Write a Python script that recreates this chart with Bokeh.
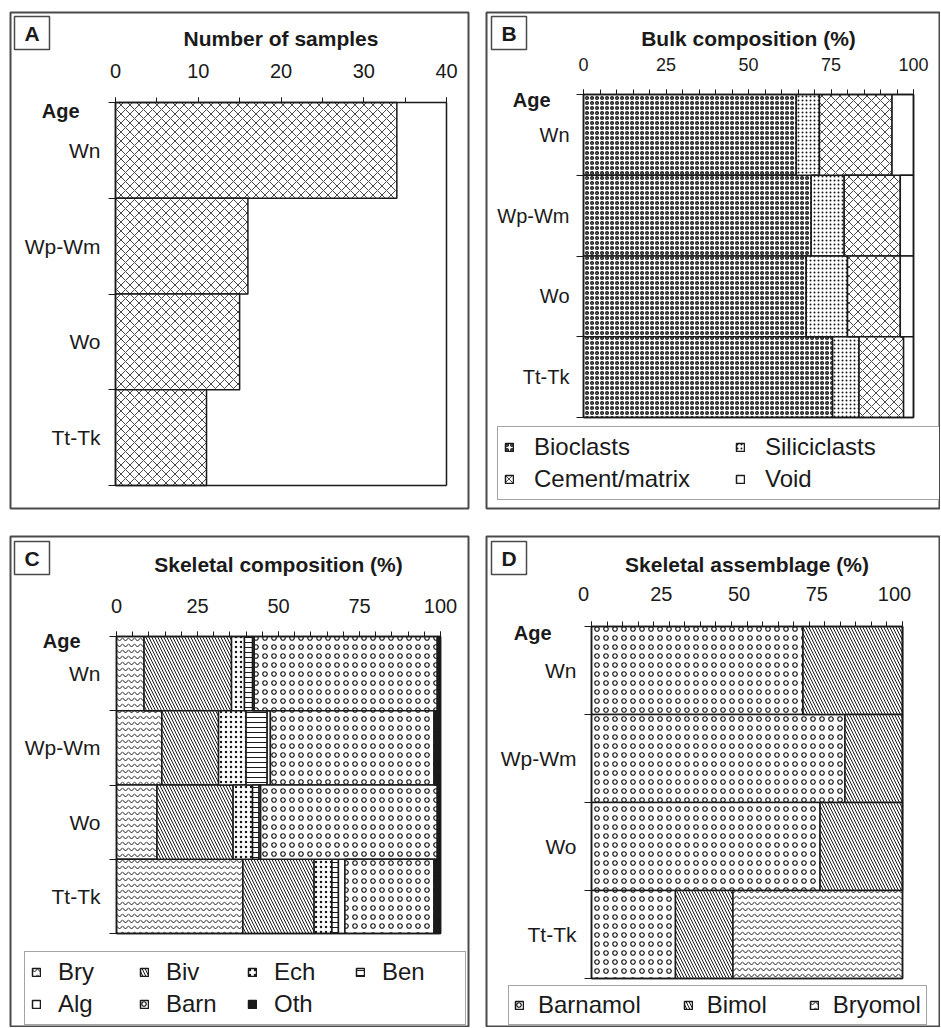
from bokeh.plotting import figure
from bokeh.models import (Range1d, LinearAxis, FixedTicker, Label, Legend, LegendItem,
                          ColumnDataSource, Spacer)
from bokeh.layouts import row, column
from bokeh.embed import file_html
from bokeh.resources import INLINE

# ---------------- data ----------------
ages = ["Wn", "Wp-Wm", "Wo", "Tt-Tk"]

n_samples = [34, 16, 15, 11]
count_ticks = [0, 10, 20, 30, 40]

bulk_names = ["Bioclasts", "Siliciclasts", "Cement/matrix", "Void"]
bioclasts = [64.5, 69, 67.5, 75.5]
siliciclasts = [7, 10, 12.5, 8]
cement = [22, 17, 16, 13.5]
void = [6.5, 4, 4, 3]

skel_names = ["Bry", "Biv", "Ech", "Ben", "Alg", "Barn", "Oth"]
bry = [8.5, 14, 12.5, 39]
biv = [27, 17.5, 23.5, 22]
ech = [4, 8.5, 6, 5.5]
ben = [2.5, 6.5, 2, 2]
alg = [0.5, 1, 0.5, 2]
barn = [56.5, 50.5, 54.5, 27.5]
oth = [1, 2, 1, 2]

assem_names = ["Barnamol", "Bimol", "Bryomol"]
barnamol = [68, 81.5, 73.5, 27]
bimol = [32, 18.5, 26.5, 18.5]
bryomol = [0, 0, 0, 54.5]

pct_ticks = [0, 25, 50, 75, 100]

# ---------------- style ----------------
FONT = "Liberation Sans"
INK = "#1a1a1a"
BOX = "#4a4a4a"

N = len(ages)
centers = [N - i - 0.5 for i in range(N)]
bounds = list(range(N + 1))


class Panel:
    """A figure whose frame fills the canvas; the bar area is placed by the ranges."""

    def __init__(self, ox, oy, W, H, L, R, T, B, xmax, mbr=2, mbb=2):
        self.fl = ox + 2                 # frame left (page px)
        self.fb = oy + H - mbb           # frame bottom (page px)
        FW, FH = W - 2 - mbr, H - 2 - mbb
        Lf, Rf, Tf, Bf = L - 2, R - 2, T - 2, B - 2
        self.ux = xmax / (Rf - Lf)       # data units per pixel along x
        self.xlo = -Lf * self.ux
        self.uy = N / (Bf - Tf)
        yhi = N + Tf * self.uy
        self.ylo = yhi - FH * self.uy
        self.p = figure(width=W, height=H,
                        x_range=Range1d(self.xlo, self.xlo + FW * self.ux),
                        y_range=Range1d(self.ylo, yhi),
                        x_axis_location=None, y_axis_location=None,
                        toolbar_location=None, output_backend="svg",
                        min_border_left=2, min_border_top=2,
                        min_border_right=mbr, min_border_bottom=mbb,
                        outline_line_color=BOX, outline_line_width=2,
                        background_fill_color="white", border_fill_color="white")
        self.p.grid.visible = False
        self.xmax = xmax

    # page pixel -> frame screen units
    def sx(self, px):
        return px - self.fl

    def sy(self, py):
        return self.fb - py

    # page pixel -> data units (for the decorative letter frame)
    def dx(self, px):
        return self.xlo + self.sx(px) * self.ux

    def dy(self, py):
        return self.ylo + self.sy(py) * self.uy

    def axes(self, title, major, step, tick_fs, cat_fs, tick_so, title_so, cat_so, label_dx=0):
        p, xmax = self.p, self.xmax
        title_style = dict(axis_label_text_font=FONT, axis_label_text_font_size="21px",
                           axis_label_text_font_style="bold", axis_label_text_color=INK,
                           axis_label_standoff=title_so)
        xa = LinearAxis(fixed_location=N, bounds=(0, xmax),
                        ticker=FixedTicker(ticks=major, minor_ticks=list(range(0, xmax + 1, step))),
                        major_label_text_font=FONT, major_label_text_font_size=tick_fs,
                        major_label_text_color=INK, major_label_standoff=tick_so,
                        major_label_text_alpha=0 if label_dx else 1,
                        axis_line_color=INK, axis_line_width=1.5,
                        major_tick_in=0, major_tick_out=5, minor_tick_in=0, minor_tick_out=5,
                        major_tick_line_color=INK, minor_tick_line_color=INK)
        if not label_dx:
            xa.axis_label = title
            xa.update(**title_style)
        p.add_layout(xa, "above")
        if label_dx:
            # tick labels printed slightly to the left of their ticks, as in the original
            shift = label_dx * self.ux
            shifted = [t - shift for t in major]
            p.add_layout(LinearAxis(fixed_location=N, bounds=(-shift - 1, xmax + shift + 1),
                                    ticker=FixedTicker(ticks=shifted),
                                    major_label_overrides={s: str(t) for s, t in zip(shifted, major)},
                                    major_label_text_font=FONT, major_label_text_font_size=tick_fs,
                                    major_label_text_color=INK, major_label_standoff=tick_so + 5,
                                    axis_label=title, **title_style,
                                    axis_line_color=None, major_tick_out=0, major_tick_in=0,
                                    minor_tick_out=0, minor_tick_in=0), "above")
        ya = LinearAxis(fixed_location=0, bounds=(0, N),
                        ticker=FixedTicker(ticks=centers, minor_ticks=bounds),
                        major_label_overrides={c: a for c, a in zip(centers, ages)},
                        major_label_text_font=FONT, major_label_text_font_size=cat_fs,
                        major_label_text_color=INK, major_label_standoff=cat_so,
                        axis_line_color=INK, axis_line_width=1.5,
                        major_tick_in=0, major_tick_out=0, minor_tick_in=0, minor_tick_out=7,
                        minor_tick_line_color=INK)
        p.add_layout(ya, "left")
        # closing lines of the plot area (right and bottom)
        for side, loc, bnd in (("right", xmax, (0, N)), ("below", 0, (0, xmax))):
            p.add_layout(LinearAxis(fixed_location=loc, bounds=bnd, ticker=FixedTicker(ticks=[]),
                                    axis_line_color=INK, axis_line_width=1.5,
                                    major_tick_out=0, minor_tick_out=0,
                                    major_label_text_alpha=0), side)

    def letter(self, text, x0, y0, x1, y1):
        self.p.quad(left=self.dx(x0), right=self.dx(x1), top=self.dy(y0), bottom=self.dy(y1),
                    fill_color="white", line_color=BOX, line_width=1.5)
        self.p.add_layout(Label(x=self.sx((x0 + x1) / 2), y=self.sy((y0 + y1) / 2),
                                x_units="screen", y_units="screen",
                                text=text, text_font=FONT, text_font_size="21px",
                                text_font_style="bold", text_color=INK,
                                text_align="center", text_baseline="middle"))

    def age(self, px_right, py):
        self.p.add_layout(Label(x=self.sx(px_right), y=self.sy(py), x_units="screen", y_units="screen",
                                text="Age", text_font=FONT, text_font_size="20px",
                                text_font_style="bold", text_color=INK,
                                text_align="right", text_baseline="middle"))

    def legend(self, names, rends, px_left, py_bottom, ncols, label_width, standoff, spacing, padding):
        leg = Legend(items=[LegendItem(label=n, renderers=[r]) for n, r in zip(names, rends)],
                     location=(self.sx(px_left), self.sy(py_bottom)),
                     orientation="horizontal", ncols=ncols,
                     glyph_width=10, glyph_height=10, label_standoff=standoff,
                     label_width=label_width, label_height=24, spacing=spacing,
                     padding=padding, margin=0,
                     label_text_font=FONT, label_text_font_size="24px", label_text_color=INK,
                     border_line_color=BOX, border_line_width=1.5,
                     background_fill_color="white", background_fill_alpha=1)
        self.p.add_layout(leg)


BAR = dict(line_color=INK, line_width=1.5, hatch_color=INK)

# ---------------- panel A ----------------
A = Panel(8, 10, 462, 500, 107, 438, 92, 475, 40)
A.axes("Number of samples", count_ticks, 5, "20px", "21px", 20, 11, 8)
srcA = ColumnDataSource(dict(y=centers, n=n_samples))
A.p.hbar(y="y", left=0, right="n", height=1.0, source=srcA, fill_color="white",
         hatch_pattern="x", hatch_scale=9, hatch_weight=0.8, **BAR)
A.letter("A", 14, 16, 49, 49)
A.age(79, 110)

# ---------------- panel B ----------------
Bp = Panel(484, 10, 456, 500, 99, 429, 84, 407, 100, mbr=1)
Bp.axes("Bulk composition (%)", pct_ticks, 5, "18px", "20px", 19, 5, 7)
srcB = ColumnDataSource(dict(y=centers, **dict(zip(bulk_names, [bioclasts, siliciclasts, cement, void]))))
rB = Bp.p.hbar_stack(bulk_names, y="y", height=1.0, source=srcB, fill_color="white",
                     hatch_pattern=["o", ".", "x", " "], hatch_scale=[5, 4, 9, 12],
                     hatch_weight=[1.5, 1.0, 0.8, 1.0], **BAR)
Bp.letter("B", 491, 16, 526, 49)
Bp.age(550, 99)
Bp.legend(bulk_names, rB, 497, 500, 2, 197, 20, 4, 6)

# ---------------- panel C ----------------
C = Panel(8, 534, 462, 493, 108, 432, 102, 399, 100, mbb=1)
C.axes("Skeletal composition (%)", pct_ticks, 5, "20px", "21px", 19, 20, 9)
srcC = ColumnDataSource(dict(y=centers, **dict(zip(skel_names, [bry, biv, ech, ben, alg, barn, oth]))))
rC = C.p.hbar_stack(skel_names, y="y", height=1.0, source=srcC,
                    fill_color=["white", "white", "white", "white", "white", "white", INK],
                    hatch_pattern=["v", "\\", ".", "-", " ", "o", " "],
                    hatch_scale=[6, 6, 5, 5, 12, 9, 12],
                    hatch_weight=[1, 1, 1, 1, 1, 1.2, 1], **BAR)
C.letter("C", 14, 541, 49, 574)
C.age(80, 640)
C.legend(skel_names, rC, 24, 1025, 4, 77, 17, 4, 6)

# ---------------- panel D ----------------
D = Panel(484, 534, 456, 493, 107, 418, 92, 444, 100, mbr=1, mbb=1)
D.axes("Skeletal assemblage (%)", pct_ticks, 5, "20px", "21px", 21, 8, 8, label_dx=8)
srcD = ColumnDataSource(dict(y=centers, **dict(zip(assem_names, [barnamol, bimol, bryomol]))))
rD = D.p.hbar_stack(assem_names, y="y", height=1.0, source=srcD, fill_color="white",
                    hatch_pattern=["o", "\\", "v"], hatch_scale=[9, 6, 6],
                    hatch_weight=[1.2, 1, 1], **BAR)
D.letter("D", 491, 541, 526, 574)
D.age(551, 632)
D.legend(assem_names, rD, 508, 1025, 3, 0, 14, 42, 5)

layout = column(
    Spacer(height=10),
    row(Spacer(width=8), A.p, Spacer(width=14), Bp.p),
    Spacer(height=24),
    row(Spacer(width=8), C.p, Spacer(width=14), D.p),
)

open("out.html", "w").write(file_html(layout, INLINE))
